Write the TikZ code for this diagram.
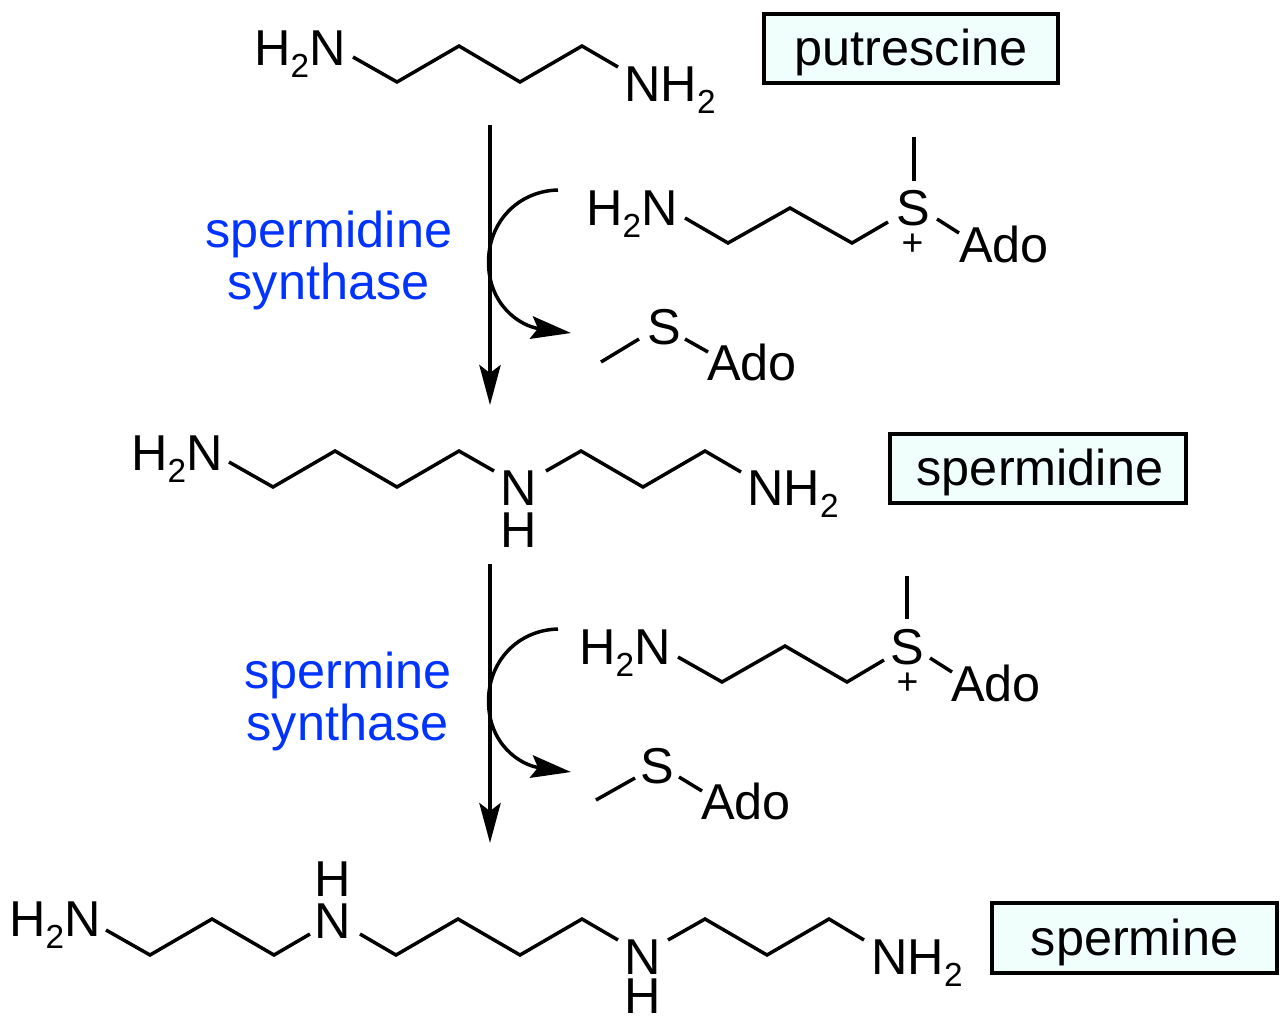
\documentclass[tikz,border=0pt]{standalone}
\usepackage{fontspec}
\setmainfont{Liberation Sans}
\usetikzlibrary{arrows.meta}
\definecolor{boxfill}{RGB}{240,255,252}
\definecolor{enzblue}{RGB}{0,51,255}
\newcommand{\subtwo}{\raisebox{-9pt}{\fontsize{25}{25}\selectfont 2}}
\tikzset{
  atom/.style={inner sep=0pt,anchor=base,font=\fontsize{37.8}{37.8}\selectfont},
  atoml/.style={atom,anchor=base west},
  charge/.style={inner sep=0pt,font=\fontsize{28}{28}\selectfont},
  enzyme/.style={atom,text=enzblue},
  namebox/.style={draw,line width=3.2pt,fill=boxfill,inner sep=0pt,minimum height=52pt,atom,anchor=center,text height=28pt,text depth=2pt},
  bond/.style={line width=2.6pt,line join=miter},
  rxn/.style={line width=2.6pt,-{Stealth[length=30pt,width=16pt,inset=6pt]}},
  side/.style={line width=2.6pt,-{Stealth[length=30pt,width=17pt,inset=5pt]}}
}
\begin{document}
\begin{tikzpicture}[x=0.75pt,y=-0.75pt]
  \useasboundingbox (0,0) rectangle (1280,1025);
  % putrescine
  \node[atoml] (pa) at (254,65) {H\subtwo N};
  \node[atoml] (pb) at (624,101) {NH\subtwo};
  \node[namebox,minimum width=221pt] (pname) at (911,48.5) {putrescine};
  \coordinate (p1) at (353,57);
  \coordinate (p2) at (397,82);
  \coordinate (p3) at (459,46);
  \coordinate (p4) at (520,82);
  \coordinate (p5) at (582,46);
  \coordinate (p6) at (618,67);
  \draw[bond] (p1) -- (p2) -- (p3) -- (p4) -- (p5) -- (p6);
  % first step
  \coordinate (r1) at (490,125);
  \coordinate (r2) at (490,405);
  \draw[rxn] (r1) -- (r2);
  \node[enzyme] (e1) at (329,247) {spermidine};
  \node[enzyme] (e2) at (328.5,299) {synthase};
  \coordinate (c1) at (558,190);
  \coordinate (c2) at (488.5,262);
  \coordinate (c3) at (571,333);
  \draw[line width=2.6pt] (c1) .. controls (518,191) and (488.5,222) .. (c2);
  \draw[side] (c2) .. controls (488.5,305) and (520,326) .. (c3);
  % dcSAM
  \node[atoml] (da) at (586,225) {H\subtwo N};
  \node[atom] (ds) at (913.5,225) {S};
  \node[atoml] (dado) at (959,262) {Ado};
  \node[charge] (dplus) at (912.5,245) {+};
  \coordinate (d1) at (685,218);
  \coordinate (d2) at (728,243);
  \coordinate (d3) at (790,208);
  \coordinate (d4) at (852,243);
  \coordinate (d5) at (888,222);
  \coordinate (d6) at (914,137);
  \coordinate (d7) at (914,181);
  \coordinate (d8) at (937,219);
  \coordinate (d9) at (959,233);
  \draw[bond] (d1) -- (d2) -- (d3) -- (d4) -- (d5);
  \draw[bond] (d6) -- (d7);
  \draw[bond] (d8) -- (d9);
  % MTA
  \node[atom] (ms) at (664,344) {S};
  \node[atoml] (mado) at (707,380) {Ado};
  \coordinate (m1) at (601,362);
  \coordinate (m2) at (639,339);
  \coordinate (m3) at (685,339);
  \coordinate (m4) at (708,352);
  \draw[bond] (m1) -- (m2);
  \draw[bond] (m3) -- (m4);
  % spermidine
  \node[atoml] (sa) at (131,470) {H\subtwo N};
  \node[atom] (sn) at (518.5,505) {N};
  \node[atom] (sh) at (518.5,547) {H};
  \node[atoml] (sb) at (747,505) {NH\subtwo};
  \node[namebox,minimum width=222pt] (sname) at (1038,468.5) {\hspace*{3pt}spermidine};
  \coordinate (s1) at (229,462);
  \coordinate (s2) at (273,487);
  \coordinate (s3) at (335,451);
  \coordinate (s4) at (397,487);
  \coordinate (s5) at (459,451);
  \coordinate (s6) at (494,471);
  \coordinate (s7) at (546,471);
  \coordinate (s8) at (581,451);
  \coordinate (s9) at (643,487);
  \coordinate (s10) at (705,451);
  \coordinate (s11) at (741,472);
  \draw[bond] (s1) -- (s2) -- (s3) -- (s4) -- (s5) -- (s6);
  \draw[bond] (s7) -- (s8) -- (s9) -- (s10) -- (s11);
  % second step
  \coordinate (r3) at (490,564);
  \coordinate (r4) at (490,843);
  \draw[rxn] (r3) -- (r4);
  \node[enzyme] (e3) at (348,688) {spermine};
  \node[enzyme] (e4) at (347.5,740) {synthase};
  \coordinate (c4) at (558,629);
  \coordinate (c5) at (488.5,701);
  \coordinate (c6) at (571,772);
  \draw[line width=2.6pt] (c4) .. controls (518,630) and (488.5,661) .. (c5);
  \draw[side] (c5) .. controls (488.5,744) and (520,765) .. (c6);
  % dcSAM again
  \node[atoml] (fa) at (579,664) {H\subtwo N};
  \node[atom] (fs) at (907.5,664) {S};
  \node[atoml] (fado) at (951,701) {Ado};
  \node[charge] (fplus) at (907.5,684) {+};
  \coordinate (f1) at (678,657);
  \coordinate (f2) at (722,682);
  \coordinate (f3) at (785,646);
  \coordinate (f4) at (847,682);
  \coordinate (f5) at (884,660);
  \coordinate (f6) at (907,576);
  \coordinate (f7) at (907,619);
  \coordinate (f8) at (930,658);
  \coordinate (f9) at (952,672);
  \draw[bond] (f1) -- (f2) -- (f3) -- (f4) -- (f5);
  \draw[bond] (f6) -- (f7);
  \draw[bond] (f8) -- (f9);
  % MTA again
  \node[atom] (gs) at (657.5,783) {S};
  \node[atoml] (gado) at (701,819) {Ado};
  \coordinate (g1) at (596,800);
  \coordinate (g2) at (635,778);
  \coordinate (g3) at (679,777);
  \coordinate (g4) at (702,791);
  \draw[bond] (g1) -- (g2);
  \draw[bond] (g3) -- (g4);
  % spermine
  \node[atoml] (ta) at (9,936) {H\subtwo N};
  \node[atom] (th1) at (333,896) {H};
  \node[atom] (tn1) at (333,938) {N};
  \node[atom] (tn2) at (642.5,974) {N};
  \node[atom] (th2) at (642.5,1013) {H};
  \node[atoml] (tb) at (871,974) {NH\subtwo};
  \node[namebox,minimum width=214pt] (tname) at (1134.5,938) {spermine};
  \coordinate (t1) at (106,930);
  \coordinate (t2) at (150,955);
  \coordinate (t3) at (212,919);
  \coordinate (t4) at (274,955);
  \coordinate (t5) at (310,934);
  \coordinate (t6) at (360,934);
  \coordinate (t7) at (396,955);
  \coordinate (t8) at (458,919);
  \coordinate (t9) at (520,955);
  \coordinate (t10) at (582,919);
  \coordinate (t11) at (618,940);
  \coordinate (t12) at (668,940);
  \coordinate (t13) at (705,919);
  \coordinate (t14) at (767,955);
  \coordinate (t15) at (829,919);
  \coordinate (t16) at (864,940);
  \draw[bond] (t1) -- (t2) -- (t3) -- (t4) -- (t5);
  \draw[bond] (t6) -- (t7) -- (t8) -- (t9) -- (t10) -- (t11);
  \draw[bond] (t12) -- (t13) -- (t14) -- (t15) -- (t16);
\end{tikzpicture}
\end{document}
